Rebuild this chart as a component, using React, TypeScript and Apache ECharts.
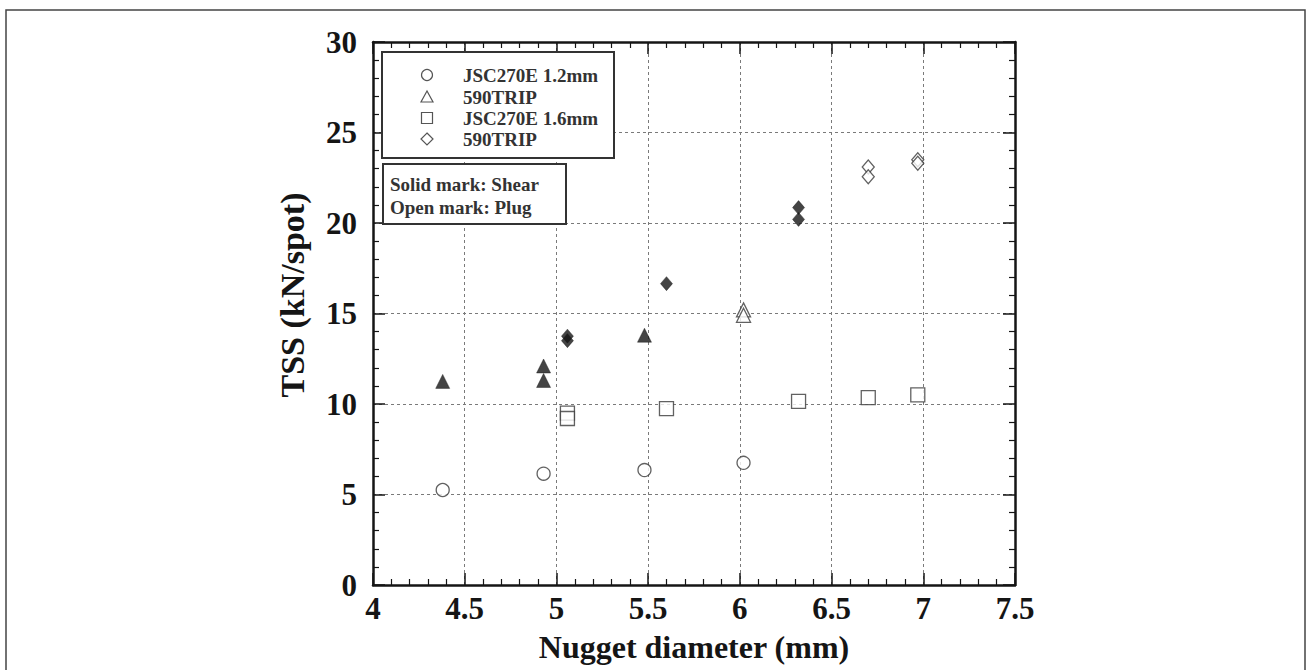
import React, { useEffect, useRef } from "react";
import * as echarts from "echarts";

// ---- data ----
const xTickMin = 4;
const xTickMax = 7.5;
const xTickStep = 0.5;
const yTickMin = 0;
const yTickMax = 30;
const yTickStep = 5;

const xTitle = "Nugget diameter (mm)";
const yTitle = "TSS (kN/spot)";

// JSC270E 1.2mm (circle, open = plug)
const jsc12Open: number[][] = [
  [4.38, 5.25],
  [4.93, 6.15],
  [5.48, 6.35],
  [6.02, 6.75],
];
// 590TRIP (triangle) solid = shear, open = plug
const trip1Solid: number[][] = [
  [4.38, 11.25],
  [4.93, 12.1],
  [4.93, 11.3],
  [5.48, 13.8],
];
const trip1Open: number[][] = [
  [6.02, 15.2],
  [6.02, 14.9],
];
// JSC270E 1.6mm (square, open = plug)
const jsc16Open: number[][] = [
  [5.06, 9.5],
  [5.06, 9.2],
  [5.6, 9.75],
  [6.32, 10.15],
  [6.7, 10.35],
  [6.97, 10.5],
];
// 590TRIP (diamond) solid = shear, open = plug
const trip2Solid: number[][] = [
  [5.06, 13.75],
  [5.06, 13.5],
  [5.6, 16.65],
  [6.32, 20.85],
  [6.32, 20.2],
];
const trip2Open: number[][] = [
  [6.7, 23.1],
  [6.7, 22.55],
  [6.97, 23.5],
  [6.97, 23.3],
];

const legendLabels = ["JSC270E 1.2mm", "590TRIP", "JSC270E 1.6mm", "590TRIP"];
const legendSymbols = ["circle", "triangle", "rect", "diamond"];
const noteLabels = ["Solid mark: Shear", "Open mark: Plug"];

const FONT = "Liberation Serif, Times New Roman, Times, serif";
const INK = "#151515";
const OPEN_STROKE = "#3a3a3a";

function legendSymbol(kind: string, cx: number, cy: number): any {
  const style = { fill: "#fff", stroke: "#555", lineWidth: 1.2 };
  if (kind === "circle") return { type: "circle", shape: { cx, cy, r: 5.5 }, style, z: 101 };
  if (kind === "rect") return { type: "rect", shape: { x: cx - 5.5, y: cy - 5.5, width: 11, height: 11 }, style, z: 101 };
  if (kind === "triangle")
    return { type: "polygon", shape: { points: [[cx, cy - 6], [cx - 6, cy + 5], [cx + 6, cy + 5]] }, style, z: 101 };
  return { type: "polygon", shape: { points: [[cx, cy - 6], [cx + 6, cy], [cx, cy + 6], [cx - 6, cy]] }, style, z: 101 };
}

export default function App() {
  const ref = useRef<HTMLDivElement>(null);

  useEffect(() => {
    if (!ref.current) return;
    const chart = echarts.init(ref.current, undefined, { renderer: "svg" });

    const axisLine = { show: true, onZero: false, lineStyle: { color: INK, width: 2.5 } };
    const axisTick = { show: true, inside: true, length: 12, lineStyle: { color: INK, width: 1.5 } };
    const minorTick = { show: true, splitNumber: 5, length: 6, lineStyle: { color: INK, width: 1.2 } };
    const splitLine = { show: true, lineStyle: { color: "#7a7a7a", width: 1, type: [3, 3] } };
    const labelStyle = { fontFamily: FONT, fontWeight: "bold" as const, fontSize: 31, color: INK };

    const graphics: any[] = [
      {
        type: "rect",
        shape: { x: 6, y: 10, width: 1299, height: 700 },
        style: { fill: "none", stroke: "#444", lineWidth: 1.5 },
        z: 0,
        silent: true,
      },
      {
        type: "rect",
        shape: { x: 382, y: 52, width: 232, height: 106 },
        style: { fill: "#fff", stroke: "#333", lineWidth: 2 },
        z: 100,
      },
      {
        type: "rect",
        shape: { x: 383, y: 164, width: 183, height: 60 },
        style: { fill: "#fff", stroke: "#333", lineWidth: 2 },
        z: 100,
      },
      {
        type: "text",
        x: 292,
        y: 295,
        rotation: Math.PI / 2,
        style: {
          text: yTitle,
          fontFamily: FONT,
          fontWeight: "bold",
          fontSize: 34,
          fill: INK,
          align: "center",
          verticalAlign: "middle",
        },
        z: 100,
      },
    ];
    const rowY = [75, 97, 118, 139];
    legendLabels.forEach((t, i) => {
      graphics.push(legendSymbol(legendSymbols[i], 427, rowY[i]));
      graphics.push({
        type: "text",
        x: 463,
        y: rowY[i],
        style: { text: t, fontFamily: FONT, fontWeight: "bold", fontSize: 19, fill: "#333", align: "left", verticalAlign: "middle" },
        z: 101,
      });
    });
    const noteY = [184, 207];
    noteLabels.forEach((t, i) => {
      graphics.push({
        type: "text",
        x: 390,
        y: noteY[i],
        style: { text: t, fontFamily: FONT, fontWeight: "bold", fontSize: 19, fill: "#333", align: "left", verticalAlign: "middle" },
        z: 101,
      });
    });

    const openStyle = { color: "#fff", borderColor: OPEN_STROKE, borderWidth: 1.3 };
    const solidStyle = { color: INK, borderColor: INK, borderWidth: 0.5 };

    chart.setOption({
      animation: false,
      backgroundColor: "#fff",
      grid: { left: 373, right: 291, top: 42, bottom: 85, containLabel: false },
      xAxis: [
        {
          type: "value",
          position: "bottom",
          min: xTickMin,
          max: xTickMax,
          interval: xTickStep,
          axisLine,
          axisTick,
          minorTick,
          splitLine,
          axisLabel: { ...labelStyle, margin: 8 },
          name: xTitle,
          nameLocation: "middle",
          nameGap: 46,
          nameTextStyle: { fontFamily: FONT, fontWeight: "bold", fontSize: 32, color: INK },
        },
        {
          type: "value",
          position: "top",
          min: xTickMin,
          max: xTickMax,
          interval: xTickStep,
          axisLine,
          axisTick,
          minorTick,
          splitLine: { show: false },
          axisLabel: { show: false },
        },
      ],
      yAxis: [
        {
          type: "value",
          position: "left",
          min: yTickMin,
          max: yTickMax,
          interval: yTickStep,
          axisLine,
          axisTick,
          minorTick,
          splitLine,
          axisLabel: { ...labelStyle, margin: 16 },
        },
        {
          type: "value",
          position: "right",
          min: yTickMin,
          max: yTickMax,
          interval: yTickStep,
          axisLine,
          axisTick,
          minorTick,
          splitLine: { show: false },
          axisLabel: { show: false },
        },
      ],
      graphic: graphics,
      series: [
        { name: "JSC270E 1.2mm", type: "scatter", symbol: "circle", symbolSize: 13, data: jsc12Open, itemStyle: openStyle, z: 5 },
        { name: "JSC270E 1.6mm", type: "scatter", symbol: "rect", symbolSize: 14, data: jsc16Open, itemStyle: openStyle, z: 5 },
        { name: "590TRIP (triangle, shear)", type: "scatter", symbol: "triangle", symbolSize: 14, data: trip1Solid, itemStyle: solidStyle, z: 5 },
        { name: "590TRIP (triangle, plug)", type: "scatter", symbol: "triangle", symbolSize: 14, data: trip1Open, itemStyle: openStyle, z: 5 },
        { name: "590TRIP (diamond, shear)", type: "scatter", symbol: "diamond", symbolSize: [12, 14], data: trip2Solid, itemStyle: solidStyle, z: 5 },
        { name: "590TRIP (diamond, plug)", type: "scatter", symbol: "diamond", symbolSize: [12, 14], data: trip2Open, itemStyle: openStyle, z: 5 },
      ],
    });

    return () => chart.dispose();
  }, []);

  return (
    <div
      ref={ref}
      style={{ position: "absolute", left: 0, top: 0, width: 1306, height: 670, background: "#fff" }}
    />
  );
}
